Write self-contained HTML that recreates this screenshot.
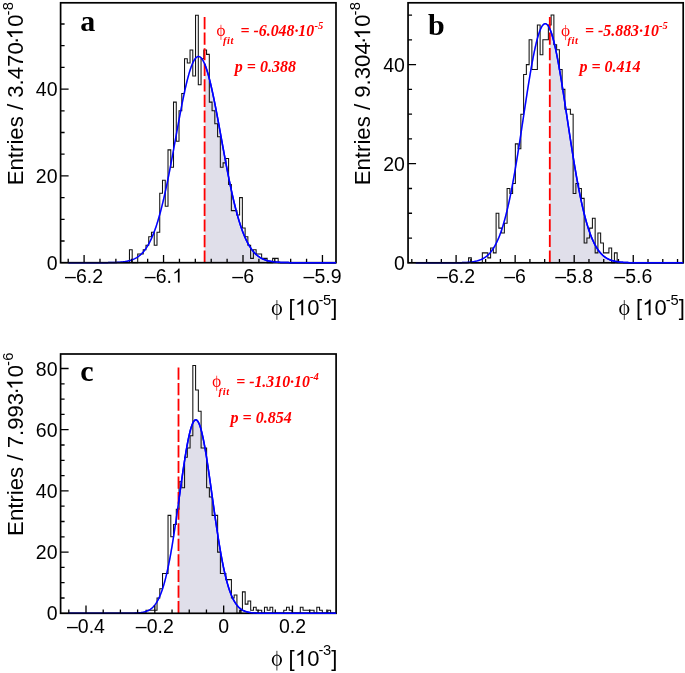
<!DOCTYPE html><html><head><meta charset="utf-8"><style>html,body{margin:0;padding:0;background:#fff;}svg{display:block;will-change:transform}</style></head><body>
<svg width="685" height="673" viewBox="0 0 685 673">
<rect x="0" y="0" width="685" height="673" fill="#fff"/>
<polygon fill="#e0dfea" points="204.6,262.7 204.6,63.85 205,64.82 205.5,66.11 206,67.49 206.5,68.95 207,70.5 207.5,72.13 208,73.83 208.5,75.61 209,77.46 209.5,79.38 210,81.37 210.5,83.43 211,85.55 211.5,87.72 212,89.96 212.5,92.25 213,94.59 213.5,96.98 214,99.41 214.5,101.88 215,104.4 215.5,106.95 216,109.53 216.5,112.15 217,114.79 217.5,117.45 218,120.14 218.5,122.84 219,125.56 219.5,128.29 220,131.03 220.5,133.78 221,136.53 221.5,139.28 222,142.04 222.5,144.78 223,147.52 223.5,150.25 224,152.97 224.5,155.68 225,158.37 225.5,161.04 226,163.69 226.5,166.31 227,168.92 227.5,171.49 228,174.04 228.5,176.56 229,179.05 229.5,181.51 230,183.93 230.5,186.32 231,188.67 231.5,190.98 232,193.26 232.5,195.49 233,197.69 233.5,199.84 234,201.95 234.5,204.02 235,206.04 235.5,208.03 236,209.97 236.5,211.86 237,213.71 237.5,215.52 238,217.28 238.5,218.99 239,220.67 239.5,222.29 240,223.88 240.5,225.42 241,226.91 241.5,228.36 242,229.77 242.5,231.14 243,232.46 243.5,233.75 244,234.99 244.5,236.19 245,237.35 245.5,238.48 246,239.56 246.5,240.61 247,241.62 247.5,242.59 248,243.53 248.5,244.43 249,245.3 249.5,246.13 250,246.93 250.5,247.71 251,248.45 251.5,249.16 252,249.84 252.5,250.49 253,251.12 253.5,251.71 254,252.29 254.5,252.83 255,253.36 255.5,253.86 256,254.33 256.5,254.79 257,255.22 257.5,255.64 258,256.03 258.5,256.41 259,256.76 259.5,257.1 260,257.43 260.5,257.73 261,258.02 261.5,258.3 262,258.56 262.5,258.81 263,259.04 263.5,259.27 264,259.48 264.5,259.67 265,259.86 265.5,260.04 266,260.21 266.5,260.37 267,260.52 267.5,260.66 268,260.79 268.5,260.91 269,261.03 269.5,261.14 270,261.25 270.5,261.34 271,261.44 271.5,261.52 272,261.6 272.5,261.68 273,261.75 273.5,261.82 274,261.88 274.5,261.94 275,261.99 275.5,262.04 276,262.09 276.5,262.13 277,262.17 277.5,262.21 278,262.25 278.5,262.28 279,262.31 279.5,262.34 280,262.37 280.5,262.39 281,262.42 281.5,262.44 282,262.46 282.5,262.48 283,262.5 283.5,262.51 284,262.53 284.5,262.54 285,262.55 285.5,262.57 286,262.58 286.5,262.59 287,262.6 287.5,262.6 288,262.61 288.5,262.62 289,262.63 289.5,262.63 290,262.64 290.5,262.64 291,262.65 291.5,262.65 292,262.66 292.5,262.66 293,262.66 293.5,262.67 294,262.67 294.5,262.67 295,262.68 295.5,262.68 296,262.68 296.5,262.68 297,262.68 297.5,262.68 298,262.69 298.5,262.69 299,262.69 299.5,262.69 300,262.69 300.5,262.69 301,262.69 301.5,262.69 302,262.69 302.5,262.69 303,262.69 303.5,262.7 304,262.7 304.5,262.7 305,262.7 305.5,262.7 306,262.7 306.5,262.7 307,262.7 307.5,262.7 308,262.7 308.5,262.7 309,262.7 309.5,262.7 310,262.7 310.5,262.7 311,262.7 311.5,262.7 312,262.7 312.5,262.7 313,262.7 313.5,262.7 314,262.7 314.5,262.7 315,262.7 315.5,262.7 316,262.7 316.5,262.7 317,262.7 317.5,262.7 318,262.7 318.5,262.7 319,262.7 319.5,262.7 320,262.7 320.5,262.7 321,262.7 321.5,262.7 322,262.7 322.5,262.7 323,262.7 323.5,262.7 324,262.7 324.5,262.7 325,262.7 325.5,262.7 326,262.7 326.5,262.7 327,262.7 327.5,262.7 328,262.7 328.5,262.7 329,262.7 329.5,262.7 330,262.7 330.5,262.7 331,262.7 331.5,262.7 332,262.7 332.5,262.7 333,262.7 333.5,262.7 334,262.7 334.5,262.7 335,262.7 335.5,262.7 336,262.7 336,262.7"/>
<path d="M60.6,262.7L129.45,262.7L129.45,249.68L132.2,249.68L132.2,262.7L137.71,262.7L137.71,254.02L143.22,254.02L143.22,249.68L145.97,249.68L145.97,245.34L148.73,245.34L148.73,236.66L151.48,236.66L151.48,232.32L154.24,232.32L154.24,245.34L156.99,245.34L156.99,232.32L159.74,232.32L159.74,193.26L162.5,193.26L162.5,180.24L165.25,180.24L165.25,206.28L168.01,206.28L168.01,149.86L170.76,149.86L170.76,167.22L173.51,167.22L173.51,102.12L176.27,102.12L176.27,141.18L179.02,141.18L179.02,110.8L181.78,110.8L181.78,93.44L184.53,93.44L184.53,58.72L187.28,58.72L187.28,63.06L190.04,63.06L190.04,50.04L192.79,50.04L192.79,76.08L195.55,76.08L195.55,15.32L198.3,15.32L198.3,84.76L201.05,84.76L201.05,58.72L203.81,58.72L203.81,50.04L206.56,50.04L206.56,54.38L209.32,54.38L209.32,102.12L212.07,102.12L212.07,110.8L214.82,110.8L214.82,123.82L217.58,123.82L217.58,136.84L220.33,136.84L220.33,167.22L223.09,167.22L223.09,162.88L225.84,162.88L225.84,158.54L228.59,158.54L228.59,184.58L231.35,184.58L231.35,210.62L236.86,210.62L236.86,214.96L239.61,214.96L239.61,197.6L242.36,197.6L242.36,227.98L245.12,227.98L245.12,236.66L247.87,236.66L247.87,245.34L250.63,245.34L250.63,258.36L253.38,258.36L253.38,249.68L256.13,249.68L256.13,254.02L261.64,254.02L261.64,258.36L267.15,258.36L267.15,262.7L272.66,262.7L272.66,258.36L278.17,258.36L278.17,262.7L336,262.7" fill="none" stroke="#111" stroke-width="1.05"/>
<line x1="204.6" y1="17" x2="204.6" y2="262.7" stroke="#ff0000" stroke-width="1.8" stroke-dasharray="12.2 3.37"/>
<polyline fill="none" stroke="#0000ff" stroke-width="1.5" stroke-linejoin="round" points="68.3,262.7 68.8,262.7 69.3,262.7 69.8,262.7 70.3,262.7 70.8,262.7 71.3,262.7 71.8,262.7 72.3,262.7 72.8,262.7 73.3,262.7 73.8,262.7 74.3,262.7 74.8,262.7 75.3,262.7 75.8,262.7 76.3,262.7 76.8,262.7 77.3,262.7 77.8,262.7 78.3,262.7 78.8,262.7 79.3,262.7 79.8,262.7 80.3,262.7 80.8,262.7 81.3,262.7 81.8,262.7 82.3,262.7 82.8,262.7 83.3,262.7 83.8,262.7 84.3,262.7 84.8,262.7 85.3,262.7 85.8,262.7 86.3,262.7 86.8,262.7 87.3,262.7 87.8,262.7 88.3,262.7 88.8,262.7 89.3,262.7 89.8,262.7 90.3,262.7 90.8,262.7 91.3,262.7 91.8,262.7 92.3,262.7 92.8,262.7 93.3,262.7 93.8,262.69 94.3,262.69 94.8,262.69 95.3,262.69 95.8,262.69 96.3,262.69 96.8,262.69 97.3,262.69 97.8,262.69 98.3,262.69 98.8,262.69 99.3,262.68 99.8,262.68 100.3,262.68 100.8,262.68 101.3,262.68 101.8,262.68 102.3,262.67 102.8,262.67 103.3,262.67 103.8,262.67 104.3,262.66 104.8,262.66 105.3,262.65 105.8,262.65 106.3,262.65 106.8,262.64 107.3,262.63 107.8,262.63 108.3,262.62 108.8,262.61 109.3,262.61 109.8,262.6 110.3,262.59 110.8,262.58 111.3,262.57 111.8,262.56 112.3,262.55 112.8,262.53 113.3,262.52 113.8,262.5 114.3,262.48 114.8,262.47 115.3,262.45 115.8,262.43 116.3,262.4 116.8,262.38 117.3,262.35 117.8,262.32 118.3,262.29 118.8,262.26 119.3,262.22 119.8,262.19 120.3,262.15 120.8,262.1 121.3,262.06 121.8,262.01 122.3,261.95 122.8,261.9 123.3,261.84 123.8,261.77 124.3,261.7 124.8,261.63 125.3,261.55 125.8,261.46 126.3,261.37 126.8,261.28 127.3,261.18 127.8,261.07 128.3,260.95 128.8,260.83 129.3,260.7 129.8,260.56 130.3,260.42 130.8,260.26 131.3,260.1 131.8,259.92 132.3,259.74 132.8,259.54 133.3,259.33 133.8,259.12 134.3,258.88 134.8,258.64 135.3,258.38 135.8,258.11 136.3,257.83 136.8,257.53 137.3,257.21 137.8,256.87 138.3,256.52 138.8,256.15 139.3,255.77 139.8,255.36 140.3,254.93 140.8,254.48 141.3,254.01 141.8,253.52 142.3,253 142.8,252.46 143.3,251.9 143.8,251.31 144.3,250.69 144.8,250.05 145.3,249.38 145.8,248.68 146.3,247.95 146.8,247.18 147.3,246.39 147.8,245.57 148.3,244.71 148.8,243.82 149.3,242.89 149.8,241.93 150.3,240.93 150.8,239.9 151.3,238.83 151.8,237.72 152.3,236.57 152.8,235.38 153.3,234.15 153.8,232.88 154.3,231.57 154.8,230.22 155.3,228.82 155.8,227.38 156.3,225.9 156.8,224.37 157.3,222.8 157.8,221.19 158.3,219.53 158.8,217.83 159.3,216.08 159.8,214.29 160.3,212.46 160.8,210.58 161.3,208.65 161.8,206.68 162.3,204.67 162.8,202.62 163.3,200.52 163.8,198.38 164.3,196.2 164.8,193.98 165.3,191.71 165.8,189.41 166.3,187.07 166.8,184.7 167.3,182.29 167.8,179.84 168.3,177.36 168.8,174.85 169.3,172.31 169.8,169.74 170.3,167.15 170.8,164.53 171.3,161.89 171.8,159.22 172.3,156.54 172.8,153.84 173.3,151.12 173.8,148.4 174.3,145.66 174.8,142.91 175.3,140.17 175.8,137.41 176.3,134.66 176.8,131.91 177.3,129.17 177.8,126.43 178.3,123.71 178.8,121 179.3,118.31 179.8,115.64 180.3,112.99 180.8,110.37 181.3,107.77 181.8,105.21 182.3,102.68 182.8,100.2 183.3,97.75 183.8,95.35 184.3,92.99 184.8,90.69 185.3,88.43 185.8,86.24 186.3,84.1 186.8,82.02 187.3,80.01 187.8,78.07 188.3,76.19 188.8,74.39 189.3,72.66 189.8,71.01 190.3,69.44 190.8,67.95 191.3,66.54 191.8,65.22 192.3,63.99 192.8,62.84 193.3,61.79 193.8,60.83 194.3,59.96 194.8,59.19 195.3,58.51 195.8,57.93 196.3,57.45 196.8,57.06 197.3,56.78 197.8,56.59 198.3,56.51 198.8,56.52 199.3,56.63 199.8,56.85 200.3,57.16 200.8,57.57 201.3,58.08 201.8,58.69 202.3,59.39 202.8,60.19 203.3,61.09 203.8,62.08 204.3,63.16 204.8,64.33 205.3,65.58 205.8,66.93 206.3,68.36 206.8,69.87 207.3,71.47 207.8,73.14 208.3,74.89 208.8,76.71 209.3,78.61 209.8,80.57 210.3,82.6 210.8,84.69 211.3,86.85 211.8,89.06 212.3,91.33 212.8,93.65 213.3,96.01 213.8,98.43 214.3,100.89 214.8,103.39 215.3,105.92 215.8,108.5 216.3,111.1 216.8,113.73 217.3,116.38 217.8,119.06 218.3,121.76 218.8,124.47 219.3,127.2 219.8,129.94 220.3,132.68 220.8,135.43 221.3,138.18 221.8,140.94 222.3,143.68 222.8,146.43 223.3,149.16 223.8,151.89 224.3,154.6 224.8,157.29 225.3,159.97 225.8,162.63 226.3,165.27 226.8,167.88 227.3,170.47 227.8,173.03 228.3,175.56 228.8,178.06 229.3,180.53 229.8,182.97 230.3,185.37 230.8,187.73 231.3,190.06 231.8,192.35 232.3,194.6 232.8,196.81 233.3,198.98 233.8,201.11 234.3,203.2 234.8,205.24 235.3,207.24 235.8,209.2 236.3,211.11 236.8,212.98 237.3,214.8 237.8,216.58 238.3,218.31 238.8,220 239.3,221.65 239.8,223.25 240.3,224.81 240.8,226.32 241.3,227.79 241.8,229.21 242.3,230.6 242.8,231.94 243.3,233.24 243.8,234.5 244.3,235.72 244.8,236.89 245.3,238.03 245.8,239.13 246.3,240.19 246.8,241.22 247.3,242.2 247.8,243.16 248.3,244.07 248.8,244.95 249.3,245.8 249.8,246.62 250.3,247.4 250.8,248.15 251.3,248.88 251.8,249.57 252.3,250.23 252.8,250.87 253.3,251.48 253.8,252.06 254.3,252.62 254.8,253.15 255.3,253.66 255.8,254.15 256.3,254.61 256.8,255.05 257.3,255.47 257.8,255.88 258.3,256.26 258.8,256.62 259.3,256.97 259.8,257.3 260.3,257.61 260.8,257.91 261.3,258.19 261.8,258.46 262.3,258.71 262.8,258.95 263.3,259.18 263.8,259.39 264.3,259.6 264.8,259.79 265.3,259.97 265.8,260.14 266.3,260.3 266.8,260.46 267.3,260.6 267.8,260.74 268.3,260.87 268.8,260.99 269.3,261.1 269.8,261.21 270.3,261.31 270.8,261.4 271.3,261.49 271.8,261.57 272.3,261.65 272.8,261.72 273.3,261.79 273.8,261.85 274.3,261.91 274.8,261.97 275.3,262.02 275.8,262.07 276.3,262.12 276.8,262.16 277.3,262.2 277.8,262.23 278.3,262.27 278.8,262.3 279.3,262.33 279.8,262.36 280.3,262.39 280.8,262.41 281.3,262.43 281.8,262.45 282.3,262.47 282.8,262.49 283.3,262.51 283.8,262.52 284.3,262.54 284.8,262.55 285.3,262.56 285.8,262.57 286.3,262.58 286.8,262.59 287.3,262.6 287.8,262.61 288.3,262.62 288.8,262.62 289.3,262.63 289.8,262.64 290.3,262.64 290.8,262.65 291.3,262.65 291.8,262.66 292.3,262.66 292.8,262.66 293.3,262.67 293.8,262.67 294.3,262.67 294.8,262.67 295.3,262.68 295.8,262.68 296.3,262.68 296.8,262.68 297.3,262.68 297.8,262.69 298.3,262.69 298.8,262.69 299.3,262.69 299.8,262.69 300.3,262.69 300.8,262.69 301.3,262.69 301.8,262.69 302.3,262.69 302.8,262.69 303.3,262.7 303.8,262.7 304.3,262.7 304.8,262.7 305.3,262.7 305.8,262.7 306.3,262.7 306.8,262.7 307.3,262.7 307.8,262.7 308.3,262.7 308.8,262.7 309.3,262.7 309.8,262.7 310.3,262.7 310.8,262.7 311.3,262.7 311.8,262.7 312.3,262.7 312.8,262.7 313.3,262.7 313.8,262.7 314.3,262.7 314.8,262.7 315.3,262.7 315.8,262.7 316.3,262.7 316.8,262.7 317.3,262.7 317.8,262.7 318.3,262.7 318.8,262.7 319.3,262.7 319.8,262.7 320.3,262.7 320.8,262.7 321.3,262.7 321.8,262.7 322.3,262.7 322.8,262.7 323.3,262.7 323.8,262.7 324.3,262.7 324.8,262.7 325.3,262.7 325.8,262.7 326.3,262.7 326.8,262.7 327.3,262.7 327.8,262.7 328.3,262.7 328.8,262.7 329.3,262.7 329.8,262.7 330.3,262.7 330.8,262.7 331.3,262.7 331.8,262.7 332.3,262.7 332.8,262.7 333.3,262.7 333.8,262.7 334.3,262.7 334.8,262.7 335.3,262.7 335.8,262.7 336,262.7"/>
<rect x="60.6" y="2.8" width="275.4" height="259.9" fill="none" stroke="#000" stroke-width="1.7"/>
<path d="M68.21,262.7V258.8M84.1,262.7V254.9M99.99,262.7V258.8M115.88,262.7V258.8M131.77,262.7V258.8M147.66,262.7V258.8M163.55,262.7V254.9M179.44,262.7V258.8M195.33,262.7V258.8M211.22,262.7V258.8M227.11,262.7V258.8M243,262.7V254.9M258.89,262.7V258.8M274.78,262.7V258.8M290.67,262.7V258.8M306.56,262.7V258.8M322.45,262.7V254.9M60.6,241H64.6M60.6,219.3H64.6M60.6,197.6H64.6M60.6,175.9H68.6M60.6,154.2H64.6M60.6,132.5H64.6M60.6,110.8H64.6M60.6,89.1H68.6M60.6,67.4H64.6M60.6,45.7H64.6M60.6,24H64.6" stroke="#000" stroke-width="1.3" fill="none"/>
<polyline fill="none" stroke="#0000ff" stroke-opacity="0.2" stroke-width="1.5" stroke-linejoin="round" points="68.3,262.7 68.8,262.7 69.3,262.7 69.8,262.7 70.3,262.7 70.8,262.7 71.3,262.7 71.8,262.7 72.3,262.7 72.8,262.7 73.3,262.7 73.8,262.7 74.3,262.7 74.8,262.7 75.3,262.7 75.8,262.7 76.3,262.7 76.8,262.7 77.3,262.7 77.8,262.7 78.3,262.7 78.8,262.7 79.3,262.7 79.8,262.7 80.3,262.7 80.8,262.7 81.3,262.7 81.8,262.7 82.3,262.7 82.8,262.7 83.3,262.7 83.8,262.7 84.3,262.7 84.8,262.7 85.3,262.7 85.8,262.7 86.3,262.7 86.8,262.7 87.3,262.7 87.8,262.7 88.3,262.7 88.8,262.7 89.3,262.7 89.8,262.7 90.3,262.7 90.8,262.7 91.3,262.7 91.8,262.7 92.3,262.7 92.8,262.7 93.3,262.7 93.8,262.69 94.3,262.69 94.8,262.69 95.3,262.69 95.8,262.69 96.3,262.69 96.8,262.69 97.3,262.69 97.8,262.69 98.3,262.69 98.8,262.69 99.3,262.68 99.8,262.68 100.3,262.68 100.8,262.68 101.3,262.68 101.8,262.68 102.3,262.67 102.8,262.67 103.3,262.67 103.8,262.67 104.3,262.66 104.8,262.66 105.3,262.65 105.8,262.65 106.3,262.65 106.8,262.64 107.3,262.63 107.8,262.63 108.3,262.62 108.8,262.61 109.3,262.61 109.8,262.6 110.3,262.59 110.8,262.58 111.3,262.57 111.8,262.56 112.3,262.55 112.8,262.53 113.3,262.52 113.8,262.5 114.3,262.48 114.8,262.47 115.3,262.45 115.8,262.43 116.3,262.4 116.8,262.38 117.3,262.35 117.8,262.32 118.3,262.29 118.8,262.26 119.3,262.22 119.8,262.19 120.3,262.15 120.8,262.1 121.3,262.06 121.8,262.01 122.3,261.95 122.8,261.9 123.3,261.84 123.8,261.77 124.3,261.7 124.8,261.63 125.3,261.55 125.8,261.46 126.3,261.37 126.8,261.28 127.3,261.18 127.8,261.07 128.3,260.95 128.8,260.83 129.3,260.7 129.8,260.56 130.3,260.42 130.8,260.26 131.3,260.1 131.8,259.92 132.3,259.74 132.8,259.54 133.3,259.33 133.8,259.12 134.3,258.88 134.8,258.64 135.3,258.38 135.8,258.11 136.3,257.83 136.8,257.53 137.3,257.21 137.8,256.87 138.3,256.52 138.8,256.15 139.3,255.77 139.8,255.36 140.3,254.93 140.8,254.48 141.3,254.01 141.8,253.52 142.3,253 142.8,252.46 143.3,251.9 143.8,251.31 144.3,250.69 144.8,250.05 145.3,249.38 145.8,248.68 146.3,247.95 146.8,247.18 147.3,246.39 147.8,245.57 148.3,244.71 148.8,243.82 149.3,242.89 149.8,241.93 150.3,240.93 150.8,239.9 151.3,238.83 151.8,237.72 152.3,236.57 152.8,235.38 153.3,234.15 153.8,232.88 154.3,231.57 154.8,230.22 155.3,228.82 155.8,227.38 156.3,225.9 156.8,224.37 157.3,222.8 157.8,221.19 158.3,219.53 158.8,217.83 159.3,216.08 159.8,214.29 160.3,212.46 160.8,210.58 161.3,208.65 161.8,206.68 162.3,204.67 162.8,202.62 163.3,200.52 163.8,198.38 164.3,196.2 164.8,193.98 165.3,191.71 165.8,189.41 166.3,187.07 166.8,184.7 167.3,182.29 167.8,179.84 168.3,177.36 168.8,174.85 169.3,172.31 169.8,169.74 170.3,167.15 170.8,164.53 171.3,161.89 171.8,159.22 172.3,156.54 172.8,153.84 173.3,151.12 173.8,148.4 174.3,145.66 174.8,142.91 175.3,140.17 175.8,137.41 176.3,134.66 176.8,131.91 177.3,129.17 177.8,126.43 178.3,123.71 178.8,121 179.3,118.31 179.8,115.64 180.3,112.99 180.8,110.37 181.3,107.77 181.8,105.21 182.3,102.68 182.8,100.2 183.3,97.75 183.8,95.35 184.3,92.99 184.8,90.69 185.3,88.43 185.8,86.24 186.3,84.1 186.8,82.02 187.3,80.01 187.8,78.07 188.3,76.19 188.8,74.39 189.3,72.66 189.8,71.01 190.3,69.44 190.8,67.95 191.3,66.54 191.8,65.22 192.3,63.99 192.8,62.84 193.3,61.79 193.8,60.83 194.3,59.96 194.8,59.19 195.3,58.51 195.8,57.93 196.3,57.45 196.8,57.06 197.3,56.78 197.8,56.59 198.3,56.51 198.8,56.52 199.3,56.63 199.8,56.85 200.3,57.16 200.8,57.57 201.3,58.08 201.8,58.69 202.3,59.39 202.8,60.19 203.3,61.09 203.8,62.08 204.3,63.16 204.6,63.85"/>
<polyline fill="none" stroke="#0000ff" stroke-width="1.5" stroke-linejoin="round" points="204.6,63.85 205,64.82 205.5,66.11 206,67.49 206.5,68.95 207,70.5 207.5,72.13 208,73.83 208.5,75.61 209,77.46 209.5,79.38 210,81.37 210.5,83.43 211,85.55 211.5,87.72 212,89.96 212.5,92.25 213,94.59 213.5,96.98 214,99.41 214.5,101.88 215,104.4 215.5,106.95 216,109.53 216.5,112.15 217,114.79 217.5,117.45 218,120.14 218.5,122.84 219,125.56 219.5,128.29 220,131.03 220.5,133.78 221,136.53 221.5,139.28 222,142.04 222.5,144.78 223,147.52 223.5,150.25 224,152.97 224.5,155.68 225,158.37 225.5,161.04 226,163.69 226.5,166.31 227,168.92 227.5,171.49 228,174.04 228.5,176.56 229,179.05 229.5,181.51 230,183.93 230.5,186.32 231,188.67 231.5,190.98 232,193.26 232.5,195.49 233,197.69 233.5,199.84 234,201.95 234.5,204.02 235,206.04 235.5,208.03 236,209.97 236.5,211.86 237,213.71 237.5,215.52 238,217.28 238.5,218.99 239,220.67 239.5,222.29 240,223.88 240.5,225.42 241,226.91 241.5,228.36 242,229.77 242.5,231.14 243,232.46 243.5,233.75 244,234.99 244.5,236.19 245,237.35 245.5,238.48 246,239.56 246.5,240.61 247,241.62 247.5,242.59 248,243.53 248.5,244.43 249,245.3 249.5,246.13 250,246.93 250.5,247.71 251,248.45 251.5,249.16 252,249.84 252.5,250.49 253,251.12 253.5,251.71 254,252.29 254.5,252.83 255,253.36 255.5,253.86 256,254.33 256.5,254.79 257,255.22 257.5,255.64 258,256.03 258.5,256.41 259,256.76 259.5,257.1 260,257.43 260.5,257.73 261,258.02 261.5,258.3 262,258.56 262.5,258.81 263,259.04 263.5,259.27 264,259.48 264.5,259.67 265,259.86 265.5,260.04 266,260.21 266.5,260.37 267,260.52 267.5,260.66 268,260.79 268.5,260.91 269,261.03 269.5,261.14 270,261.25 270.5,261.34 271,261.44 271.5,261.52 272,261.6 272.5,261.68 273,261.75 273.5,261.82 274,261.88 274.5,261.94 275,261.99 275.5,262.04 276,262.09 276.5,262.13 277,262.17 277.5,262.21 278,262.25 278.5,262.28 279,262.31 279.5,262.34 280,262.37 280.5,262.39 281,262.42 281.5,262.44 282,262.46 282.5,262.48 283,262.5 283.5,262.51 284,262.53 284.5,262.54 285,262.55 285.5,262.57 286,262.58 286.5,262.59 287,262.6 287.5,262.6 288,262.61 288.5,262.62 289,262.63 289.5,262.63 290,262.64 290.5,262.64 291,262.65 291.5,262.65 292,262.66 292.5,262.66 293,262.66 293.5,262.67 294,262.67 294.5,262.67 295,262.68 295.5,262.68 296,262.68 296.5,262.68 297,262.68 297.5,262.68 298,262.69 298.5,262.69 299,262.69 299.5,262.69 300,262.69 300.5,262.69 301,262.69 301.5,262.69 302,262.69 302.5,262.69 303,262.69 303.5,262.7 304,262.7 304.5,262.7 305,262.7 305.5,262.7 306,262.7 306.5,262.7 307,262.7 307.5,262.7 308,262.7 308.5,262.7 309,262.7 309.5,262.7 310,262.7 310.5,262.7 311,262.7 311.5,262.7 312,262.7 312.5,262.7 313,262.7 313.5,262.7 314,262.7 314.5,262.7 315,262.7 315.5,262.7 316,262.7 316.5,262.7 317,262.7 317.5,262.7 318,262.7 318.5,262.7 319,262.7 319.5,262.7 320,262.7 320.5,262.7 321,262.7 321.5,262.7 322,262.7 322.5,262.7 323,262.7 323.5,262.7 324,262.7 324.5,262.7 325,262.7 325.5,262.7 326,262.7 326.5,262.7 327,262.7 327.5,262.7 328,262.7 328.5,262.7 329,262.7 329.5,262.7 330,262.7 330.5,262.7 331,262.7 331.5,262.7 332,262.7 332.5,262.7 333,262.7 333.5,262.7 334,262.7 334.5,262.7 335,262.7 335.5,262.7 336,262.7 336,262.7"/>
<text x="57.5" y="269.75" font-family="Liberation Sans, sans-serif" font-size="19.5" text-anchor="end">0</text>
<text x="57.5" y="182.95" font-family="Liberation Sans, sans-serif" font-size="19.5" text-anchor="end">20</text>
<text x="57.5" y="96.15" font-family="Liberation Sans, sans-serif" font-size="19.5" text-anchor="end">40</text>
<text x="84.1" y="282.6" font-family="Liberation Sans, sans-serif" font-size="19.5" text-anchor="middle">–6.2</text>
<text x="144.82" y="282.6" font-family="Liberation Sans, sans-serif" font-size="19.5">–6.</text>
<path d="M0.3726,0L0.2847,0L0.2847,0.5601Q0.2529,0.5298 0.2012,0.4995Q0.1494,0.4692 0.1084,0.4541L0.1084,0.5391Q0.1821,0.5737 0.2373,0.623Q0.2925,0.6724 0.3154,0.7188L0.3726,0.7188Z" transform="translate(172.33,282.6) scale(19.5,-19.5)" fill="#000"/>
<text x="243.2" y="282.6" font-family="Liberation Sans, sans-serif" font-size="19.5" text-anchor="middle">–6</text>
<text x="322.6" y="282.6" font-family="Liberation Sans, sans-serif" font-size="19.5" text-anchor="middle">–5.9</text>
<polygon fill="#e0dfea" points="549.8,262.8 549.8,28.88 550,29.33 550.5,30.56 551,31.89 551.5,33.34 552,34.9 552.5,36.56 553,38.33 553.5,40.21 554,42.18 554.5,44.25 555,46.41 555.5,48.66 556,51 556.5,53.43 557,55.93 557.5,58.51 558,61.17 558.5,63.89 559,66.68 559.5,69.53 560,72.44 560.5,75.4 561,78.41 561.5,81.47 562,84.57 562.5,87.71 563,90.88 563.5,94.09 564,97.32 564.5,100.57 565,103.84 565.5,107.13 566,110.43 566.5,113.74 567,117.05 567.5,120.36 568,123.67 568.5,126.98 569,130.27 569.5,133.55 570,136.82 570.5,140.07 571,143.29 571.5,146.49 572,149.67 572.5,152.82 573,155.93 573.5,159.01 574,162.06 574.5,165.06 575,168.03 575.5,170.95 576,173.83 576.5,176.67 577,179.45 577.5,182.19 578,184.88 578.5,187.52 579,190.11 579.5,192.65 580,195.13 580.5,197.56 581,199.93 581.5,202.25 582,204.52 582.5,206.73 583,208.88 583.5,210.98 584,213.02 584.5,215.01 585,216.94 585.5,218.81 586,220.64 586.5,222.4 587,224.12 587.5,225.78 588,227.38 588.5,228.94 589,230.44 589.5,231.89 590,233.3 590.5,234.65 591,235.96 591.5,237.22 592,238.43 592.5,239.6 593,240.72 593.5,241.8 594,242.84 594.5,243.83 595,244.79 595.5,245.7 596,246.58 596.5,247.42 597,248.23 597.5,249 598,249.73 598.5,250.44 599,251.11 599.5,251.75 600,252.36 600.5,252.94 601,253.5 601.5,254.03 602,254.53 602.5,255.01 603,255.46 603.5,255.89 604,256.3 604.5,256.69 605,257.06 605.5,257.41 606,257.74 606.5,258.05 607,258.34 607.5,258.62 608,258.89 608.5,259.14 609,259.37 609.5,259.59 610,259.8 610.5,260 611,260.18 611.5,260.36 612,260.52 612.5,260.68 613,260.82 613.5,260.96 614,261.08 614.5,261.2 615,261.31 615.5,261.42 616,261.52 616.5,261.61 617,261.69 617.5,261.77 618,261.85 618.5,261.92 619,261.98 619.5,262.04 620,262.1 620.5,262.15 621,262.2 621.5,262.25 622,262.29 622.5,262.33 623,262.37 623.5,262.4 624,262.43 624.5,262.46 625,262.49 625.5,262.51 626,262.54 626.5,262.56 627,262.58 627.5,262.6 628,262.61 628.5,262.63 629,262.64 629.5,262.66 630,262.67 630.5,262.68 631,262.69 631.5,262.7 632,262.71 632.5,262.72 633,262.72 633.5,262.73 634,262.74 634.5,262.74 635,262.75 635.5,262.75 636,262.76 636.5,262.76 637,262.76 637.5,262.77 638,262.77 638.5,262.77 639,262.78 639.5,262.78 640,262.78 640.5,262.78 641,262.78 641.5,262.78 642,262.79 642.5,262.79 643,262.79 643.5,262.79 644,262.79 644.5,262.79 645,262.79 645.5,262.79 646,262.79 646.5,262.79 647,262.8 647.5,262.8 648,262.8 648.5,262.8 649,262.8 649.5,262.8 650,262.8 650.5,262.8 651,262.8 651.5,262.8 652,262.8 652.5,262.8 653,262.8 653.5,262.8 654,262.8 654.5,262.8 655,262.8 655.5,262.8 656,262.8 656.5,262.8 657,262.8 657.5,262.8 658,262.8 658.5,262.8 659,262.8 659.5,262.8 660,262.8 660.5,262.8 661,262.8 661.5,262.8 662,262.8 662.5,262.8 663,262.8 663.5,262.8 664,262.8 664.5,262.8 665,262.8 665.5,262.8 666,262.8 666.5,262.8 667,262.8 667.5,262.8 668,262.8 668.5,262.8 669,262.8 669.5,262.8 670,262.8 670.5,262.8 671,262.8 671.5,262.8 672,262.8 672.5,262.8 673,262.8 673.5,262.8 674,262.8 674.5,262.8 675,262.8 675.5,262.8 676,262.8 676.5,262.8 677,262.8 677.5,262.8 678,262.8 678.5,262.8 679,262.8 679.5,262.8 680,262.8 680.5,262.8 681,262.8 681.5,262.8 682,262.8 682.5,262.8 683,262.8 683.2,262.8 683.2,262.8"/>
<path d="M408.05,262.8L468.58,262.8L468.58,257.85L471.33,257.85L471.33,262.8L482.34,262.8L482.34,252.89L487.84,252.89L487.84,257.85L490.6,257.85L490.6,247.94L493.35,247.94L493.35,252.89L496.1,252.89L496.1,213.25L498.85,213.25L498.85,228.12L501.6,228.12L501.6,233.07L504.35,233.07L504.35,223.16L507.1,223.16L507.1,188.48L509.86,188.48L509.86,193.43L512.61,193.43L512.61,183.52L515.36,183.52L515.36,143.88L518.11,143.88L518.11,148.84L520.86,148.84L520.86,114.15L523.61,114.15L523.61,74.51L526.36,74.51L526.36,64.6L529.12,64.6L529.12,39.83L531.87,39.83L531.87,69.56L537.37,69.56L537.37,24.96L540.12,24.96L540.12,54.69L542.87,54.69L542.87,39.83L548.38,39.83L548.38,24.96L551.13,24.96L551.13,15.05L553.88,15.05L553.88,44.78L556.63,44.78L556.63,49.74L559.38,49.74L559.38,69.56L562.13,69.56L562.13,89.38L564.89,89.38L564.89,109.2L570.39,109.2L570.39,114.15L573.14,114.15L573.14,193.43L575.89,193.43L575.89,183.52L578.64,183.52L578.64,188.48L581.39,188.48L581.39,198.38L584.15,198.38L584.15,242.98L586.9,242.98L586.9,238.03L589.65,238.03L589.65,228.12L592.4,228.12L592.4,218.21L595.15,218.21L595.15,252.89L597.9,252.89L597.9,233.07L600.65,233.07L600.65,242.98L603.41,242.98L603.41,252.89L608.91,252.89L608.91,247.94L611.66,247.94L611.66,262.8L614.41,262.8L614.41,252.89L617.16,252.89L617.16,262.8L683.2,262.8" fill="none" stroke="#111" stroke-width="1.05"/>
<line x1="549.8" y1="16.9" x2="549.8" y2="262.8" stroke="#ff0000" stroke-width="1.8" stroke-dasharray="12.2 3.37"/>
<polyline fill="none" stroke="#0000ff" stroke-width="1.5" stroke-linejoin="round" points="415.75,262.8 416.25,262.8 416.75,262.8 417.25,262.8 417.75,262.8 418.25,262.8 418.75,262.8 419.25,262.8 419.75,262.8 420.25,262.8 420.75,262.8 421.25,262.8 421.75,262.8 422.25,262.8 422.75,262.8 423.25,262.8 423.75,262.8 424.25,262.8 424.75,262.8 425.25,262.8 425.75,262.8 426.25,262.8 426.75,262.8 427.25,262.8 427.75,262.8 428.25,262.8 428.75,262.8 429.25,262.8 429.75,262.8 430.25,262.8 430.75,262.8 431.25,262.8 431.75,262.8 432.25,262.8 432.75,262.8 433.25,262.8 433.75,262.8 434.25,262.8 434.75,262.8 435.25,262.8 435.75,262.8 436.25,262.8 436.75,262.8 437.25,262.8 437.75,262.8 438.25,262.8 438.75,262.8 439.25,262.8 439.75,262.8 440.25,262.8 440.75,262.8 441.25,262.8 441.75,262.8 442.25,262.8 442.75,262.8 443.25,262.8 443.75,262.79 444.25,262.79 444.75,262.79 445.25,262.79 445.75,262.79 446.25,262.79 446.75,262.79 447.25,262.79 447.75,262.79 448.25,262.79 448.75,262.79 449.25,262.78 449.75,262.78 450.25,262.78 450.75,262.78 451.25,262.78 451.75,262.77 452.25,262.77 452.75,262.77 453.25,262.76 453.75,262.76 454.25,262.76 454.75,262.75 455.25,262.75 455.75,262.74 456.25,262.74 456.75,262.73 457.25,262.73 457.75,262.72 458.25,262.71 458.75,262.7 459.25,262.69 459.75,262.68 460.25,262.67 460.75,262.66 461.25,262.65 461.75,262.63 462.25,262.62 462.75,262.6 463.25,262.58 463.75,262.57 464.25,262.54 464.75,262.52 465.25,262.5 465.75,262.47 466.25,262.44 466.75,262.41 467.25,262.38 467.75,262.34 468.25,262.31 468.75,262.26 469.25,262.22 469.75,262.17 470.25,262.12 470.75,262.07 471.25,262.01 471.75,261.94 472.25,261.88 472.75,261.8 473.25,261.73 473.75,261.64 474.25,261.55 474.75,261.46 475.25,261.35 475.75,261.25 476.25,261.13 476.75,261.01 477.25,260.87 477.75,260.73 478.25,260.58 478.75,260.42 479.25,260.25 479.75,260.07 480.25,259.88 480.75,259.67 481.25,259.46 481.75,259.23 482.25,258.98 482.75,258.73 483.25,258.45 483.75,258.16 484.25,257.86 484.75,257.53 485.25,257.19 485.75,256.83 486.25,256.45 486.75,256.05 487.25,255.63 487.75,255.18 488.25,254.71 488.75,254.22 489.25,253.7 489.75,253.16 490.25,252.59 490.75,251.98 491.25,251.36 491.75,250.7 492.25,250 492.75,249.28 493.25,248.52 493.75,247.73 494.25,246.9 494.75,246.04 495.25,245.14 495.75,244.2 496.25,243.22 496.75,242.2 497.25,241.13 497.75,240.03 498.25,238.88 498.75,237.68 499.25,236.44 499.75,235.15 500.25,233.82 500.75,232.43 501.25,231 501.75,229.52 502.25,227.98 502.75,226.39 503.25,224.75 503.75,223.06 504.25,221.31 504.75,219.51 505.25,217.66 505.75,215.75 506.25,213.78 506.75,211.76 507.25,209.68 507.75,207.55 508.25,205.36 508.75,203.12 509.25,200.82 509.75,198.47 510.25,196.06 510.75,193.6 511.25,191.08 511.75,188.51 512.25,185.89 512.75,183.22 513.25,180.5 513.75,177.73 514.25,174.91 514.75,172.05 515.25,169.14 515.75,166.19 516.25,163.2 516.75,160.17 517.25,157.11 517.75,154 518.25,150.87 518.75,147.7 519.25,144.51 519.75,141.29 520.25,138.05 520.75,134.79 521.25,131.52 521.75,128.23 522.25,124.93 522.75,121.62 523.25,118.31 523.75,115 524.25,111.69 524.75,108.38 525.25,105.09 525.75,101.81 526.25,98.55 526.75,95.31 527.25,92.1 527.75,88.91 528.25,85.76 528.75,82.64 529.25,79.57 529.75,76.54 530.25,73.56 530.75,70.63 531.25,67.75 531.75,64.94 532.25,62.19 532.75,59.51 533.25,56.9 533.75,54.37 534.25,51.92 534.75,49.54 535.25,47.26 535.75,45.06 536.25,42.95 536.75,40.95 537.25,39.03 537.75,37.22 538.25,35.52 538.75,33.92 539.25,32.43 539.75,31.05 540.25,29.78 540.75,28.63 541.25,27.6 541.75,26.69 542.25,25.89 542.75,25.22 543.25,24.67 543.75,24.24 544.25,23.93 544.75,23.76 545.25,23.7 545.75,23.77 546.25,23.96 546.75,24.28 547.25,24.73 547.75,25.29 548.25,25.98 548.75,26.79 549.25,27.72 549.75,28.77 550.25,29.93 550.75,31.21 551.25,32.6 551.75,34.11 552.25,35.72 552.75,37.44 553.25,39.26 553.75,41.18 554.25,43.2 554.75,45.32 555.25,47.53 555.75,49.82 556.25,52.21 556.75,54.67 557.25,57.21 557.75,59.83 558.25,62.52 558.75,65.28 559.25,68.1 559.75,70.97 560.25,73.91 560.75,76.9 561.25,79.93 561.75,83.01 562.25,86.14 562.75,89.29 563.25,92.48 563.75,95.7 564.25,98.94 564.75,102.21 565.25,105.49 565.75,108.78 566.25,112.08 566.75,115.39 567.25,118.71 567.75,122.02 568.25,125.32 568.75,128.62 569.25,131.91 569.75,135.19 570.25,138.44 570.75,141.68 571.25,144.9 571.75,148.09 572.25,151.25 572.75,154.38 573.25,157.48 573.75,160.54 574.25,163.56 574.75,166.55 575.25,169.49 575.75,172.4 576.25,175.25 576.75,178.06 577.25,180.83 577.75,183.54 578.25,186.21 578.75,188.82 579.25,191.39 579.75,193.89 580.25,196.35 580.75,198.75 581.25,201.1 581.75,203.39 582.25,205.63 582.75,207.81 583.25,209.94 583.75,212.01 584.25,214.02 584.75,215.98 585.25,217.88 585.75,219.73 586.25,221.53 586.75,223.27 587.25,224.95 587.75,226.59 588.25,228.17 588.75,229.7 589.25,231.17 589.75,232.6 590.25,233.98 590.75,235.31 591.25,236.59 591.75,237.83 592.25,239.02 592.75,240.16 593.25,241.26 593.75,242.32 594.25,243.34 594.75,244.31 595.25,245.25 595.75,246.15 596.25,247.01 596.75,247.83 597.25,248.62 597.75,249.37 598.25,250.09 598.75,250.78 599.25,251.43 599.75,252.06 600.25,252.66 600.75,253.22 601.25,253.77 601.75,254.28 602.25,254.77 602.75,255.24 603.25,255.68 603.75,256.1 604.25,256.5 604.75,256.88 605.25,257.23 605.75,257.57 606.25,257.89 606.75,258.2 607.25,258.49 607.75,258.76 608.25,259.01 608.75,259.26 609.25,259.48 609.75,259.7 610.25,259.9 610.75,260.09 611.25,260.27 611.75,260.44 612.25,260.6 612.75,260.75 613.25,260.89 613.75,261.02 614.25,261.14 614.75,261.26 615.25,261.37 615.75,261.47 616.25,261.56 616.75,261.65 617.25,261.73 617.75,261.81 618.25,261.88 618.75,261.95 619.25,262.01 619.75,262.07 620.25,262.13 620.75,262.18 621.25,262.23 621.75,262.27 622.25,262.31 622.75,262.35 623.25,262.38 623.75,262.42 624.25,262.45 624.75,262.47 625.25,262.5 625.75,262.52 626.25,262.55 626.75,262.57 627.25,262.59 627.75,262.6 628.25,262.62 628.75,262.64 629.25,262.65 629.75,262.66 630.25,262.67 630.75,262.68 631.25,262.69 631.75,262.7 632.25,262.71 632.75,262.72 633.25,262.73 633.75,262.73 634.25,262.74 634.75,262.74 635.25,262.75 635.75,262.75 636.25,262.76 636.75,262.76 637.25,262.77 637.75,262.77 638.25,262.77 638.75,262.77 639.25,262.78 639.75,262.78 640.25,262.78 640.75,262.78 641.25,262.78 641.75,262.79 642.25,262.79 642.75,262.79 643.25,262.79 643.75,262.79 644.25,262.79 644.75,262.79 645.25,262.79 645.75,262.79 646.25,262.79 646.75,262.79 647.25,262.8 647.75,262.8 648.25,262.8 648.75,262.8 649.25,262.8 649.75,262.8 650.25,262.8 650.75,262.8 651.25,262.8 651.75,262.8 652.25,262.8 652.75,262.8 653.25,262.8 653.75,262.8 654.25,262.8 654.75,262.8 655.25,262.8 655.75,262.8 656.25,262.8 656.75,262.8 657.25,262.8 657.75,262.8 658.25,262.8 658.75,262.8 659.25,262.8 659.75,262.8 660.25,262.8 660.75,262.8 661.25,262.8 661.75,262.8 662.25,262.8 662.75,262.8 663.25,262.8 663.75,262.8 664.25,262.8 664.75,262.8 665.25,262.8 665.75,262.8 666.25,262.8 666.75,262.8 667.25,262.8 667.75,262.8 668.25,262.8 668.75,262.8 669.25,262.8 669.75,262.8 670.25,262.8 670.75,262.8 671.25,262.8 671.75,262.8 672.25,262.8 672.75,262.8 673.25,262.8 673.75,262.8 674.25,262.8 674.75,262.8 675.25,262.8 675.75,262.8 676.25,262.8 676.75,262.8 677.25,262.8 677.75,262.8 678.25,262.8 678.75,262.8 679.25,262.8 679.75,262.8 680.25,262.8 680.75,262.8 681.25,262.8 681.75,262.8 682.25,262.8 682.75,262.8 683.2,262.8"/>
<rect x="408.05" y="2.8" width="275.15" height="260" fill="none" stroke="#000" stroke-width="1.7"/>
<path d="M411.81,262.8V258.9M426.58,262.8V258.9M441.34,262.8V258.9M456.1,262.8V255M470.86,262.8V258.9M485.62,262.8V258.9M500.39,262.8V258.9M515.15,262.8V255M529.91,262.8V258.9M544.67,262.8V258.9M559.44,262.8V258.9M574.2,262.8V255M588.96,262.8V258.9M603.73,262.8V258.9M618.49,262.8V258.9M633.25,262.8V255M648.01,262.8V258.9M662.77,262.8V258.9M677.54,262.8V258.9M408.05,238.03H412.05M408.05,213.25H412.05M408.05,188.48H412.05M408.05,163.7H416.05M408.05,138.93H412.05M408.05,114.15H412.05M408.05,89.38H412.05M408.05,64.6H416.05M408.05,39.83H412.05M408.05,15.05H412.05" stroke="#000" stroke-width="1.3" fill="none"/>
<polyline fill="none" stroke="#0000ff" stroke-opacity="0.2" stroke-width="1.5" stroke-linejoin="round" points="415.75,262.8 416.25,262.8 416.75,262.8 417.25,262.8 417.75,262.8 418.25,262.8 418.75,262.8 419.25,262.8 419.75,262.8 420.25,262.8 420.75,262.8 421.25,262.8 421.75,262.8 422.25,262.8 422.75,262.8 423.25,262.8 423.75,262.8 424.25,262.8 424.75,262.8 425.25,262.8 425.75,262.8 426.25,262.8 426.75,262.8 427.25,262.8 427.75,262.8 428.25,262.8 428.75,262.8 429.25,262.8 429.75,262.8 430.25,262.8 430.75,262.8 431.25,262.8 431.75,262.8 432.25,262.8 432.75,262.8 433.25,262.8 433.75,262.8 434.25,262.8 434.75,262.8 435.25,262.8 435.75,262.8 436.25,262.8 436.75,262.8 437.25,262.8 437.75,262.8 438.25,262.8 438.75,262.8 439.25,262.8 439.75,262.8 440.25,262.8 440.75,262.8 441.25,262.8 441.75,262.8 442.25,262.8 442.75,262.8 443.25,262.8 443.75,262.79 444.25,262.79 444.75,262.79 445.25,262.79 445.75,262.79 446.25,262.79 446.75,262.79 447.25,262.79 447.75,262.79 448.25,262.79 448.75,262.79 449.25,262.78 449.75,262.78 450.25,262.78 450.75,262.78 451.25,262.78 451.75,262.77 452.25,262.77 452.75,262.77 453.25,262.76 453.75,262.76 454.25,262.76 454.75,262.75 455.25,262.75 455.75,262.74 456.25,262.74 456.75,262.73 457.25,262.73 457.75,262.72 458.25,262.71 458.75,262.7 459.25,262.69 459.75,262.68 460.25,262.67 460.75,262.66 461.25,262.65 461.75,262.63 462.25,262.62 462.75,262.6 463.25,262.58 463.75,262.57 464.25,262.54 464.75,262.52 465.25,262.5 465.75,262.47 466.25,262.44 466.75,262.41 467.25,262.38 467.75,262.34 468.25,262.31 468.75,262.26 469.25,262.22 469.75,262.17 470.25,262.12 470.75,262.07 471.25,262.01 471.75,261.94 472.25,261.88 472.75,261.8 473.25,261.73 473.75,261.64 474.25,261.55 474.75,261.46 475.25,261.35 475.75,261.25 476.25,261.13 476.75,261.01 477.25,260.87 477.75,260.73 478.25,260.58 478.75,260.42 479.25,260.25 479.75,260.07 480.25,259.88 480.75,259.67 481.25,259.46 481.75,259.23 482.25,258.98 482.75,258.73 483.25,258.45 483.75,258.16 484.25,257.86 484.75,257.53 485.25,257.19 485.75,256.83 486.25,256.45 486.75,256.05 487.25,255.63 487.75,255.18 488.25,254.71 488.75,254.22 489.25,253.7 489.75,253.16 490.25,252.59 490.75,251.98 491.25,251.36 491.75,250.7 492.25,250 492.75,249.28 493.25,248.52 493.75,247.73 494.25,246.9 494.75,246.04 495.25,245.14 495.75,244.2 496.25,243.22 496.75,242.2 497.25,241.13 497.75,240.03 498.25,238.88 498.75,237.68 499.25,236.44 499.75,235.15 500.25,233.82 500.75,232.43 501.25,231 501.75,229.52 502.25,227.98 502.75,226.39 503.25,224.75 503.75,223.06 504.25,221.31 504.75,219.51 505.25,217.66 505.75,215.75 506.25,213.78 506.75,211.76 507.25,209.68 507.75,207.55 508.25,205.36 508.75,203.12 509.25,200.82 509.75,198.47 510.25,196.06 510.75,193.6 511.25,191.08 511.75,188.51 512.25,185.89 512.75,183.22 513.25,180.5 513.75,177.73 514.25,174.91 514.75,172.05 515.25,169.14 515.75,166.19 516.25,163.2 516.75,160.17 517.25,157.11 517.75,154 518.25,150.87 518.75,147.7 519.25,144.51 519.75,141.29 520.25,138.05 520.75,134.79 521.25,131.52 521.75,128.23 522.25,124.93 522.75,121.62 523.25,118.31 523.75,115 524.25,111.69 524.75,108.38 525.25,105.09 525.75,101.81 526.25,98.55 526.75,95.31 527.25,92.1 527.75,88.91 528.25,85.76 528.75,82.64 529.25,79.57 529.75,76.54 530.25,73.56 530.75,70.63 531.25,67.75 531.75,64.94 532.25,62.19 532.75,59.51 533.25,56.9 533.75,54.37 534.25,51.92 534.75,49.54 535.25,47.26 535.75,45.06 536.25,42.95 536.75,40.95 537.25,39.03 537.75,37.22 538.25,35.52 538.75,33.92 539.25,32.43 539.75,31.05 540.25,29.78 540.75,28.63 541.25,27.6 541.75,26.69 542.25,25.89 542.75,25.22 543.25,24.67 543.75,24.24 544.25,23.93 544.75,23.76 545.25,23.7 545.75,23.77 546.25,23.96 546.75,24.28 547.25,24.73 547.75,25.29 548.25,25.98 548.75,26.79 549.25,27.72 549.75,28.77 549.8,28.88"/>
<polyline fill="none" stroke="#0000ff" stroke-width="1.5" stroke-linejoin="round" points="549.8,28.88 550,29.33 550.5,30.56 551,31.89 551.5,33.34 552,34.9 552.5,36.56 553,38.33 553.5,40.21 554,42.18 554.5,44.25 555,46.41 555.5,48.66 556,51 556.5,53.43 557,55.93 557.5,58.51 558,61.17 558.5,63.89 559,66.68 559.5,69.53 560,72.44 560.5,75.4 561,78.41 561.5,81.47 562,84.57 562.5,87.71 563,90.88 563.5,94.09 564,97.32 564.5,100.57 565,103.84 565.5,107.13 566,110.43 566.5,113.74 567,117.05 567.5,120.36 568,123.67 568.5,126.98 569,130.27 569.5,133.55 570,136.82 570.5,140.07 571,143.29 571.5,146.49 572,149.67 572.5,152.82 573,155.93 573.5,159.01 574,162.06 574.5,165.06 575,168.03 575.5,170.95 576,173.83 576.5,176.67 577,179.45 577.5,182.19 578,184.88 578.5,187.52 579,190.11 579.5,192.65 580,195.13 580.5,197.56 581,199.93 581.5,202.25 582,204.52 582.5,206.73 583,208.88 583.5,210.98 584,213.02 584.5,215.01 585,216.94 585.5,218.81 586,220.64 586.5,222.4 587,224.12 587.5,225.78 588,227.38 588.5,228.94 589,230.44 589.5,231.89 590,233.3 590.5,234.65 591,235.96 591.5,237.22 592,238.43 592.5,239.6 593,240.72 593.5,241.8 594,242.84 594.5,243.83 595,244.79 595.5,245.7 596,246.58 596.5,247.42 597,248.23 597.5,249 598,249.73 598.5,250.44 599,251.11 599.5,251.75 600,252.36 600.5,252.94 601,253.5 601.5,254.03 602,254.53 602.5,255.01 603,255.46 603.5,255.89 604,256.3 604.5,256.69 605,257.06 605.5,257.41 606,257.74 606.5,258.05 607,258.34 607.5,258.62 608,258.89 608.5,259.14 609,259.37 609.5,259.59 610,259.8 610.5,260 611,260.18 611.5,260.36 612,260.52 612.5,260.68 613,260.82 613.5,260.96 614,261.08 614.5,261.2 615,261.31 615.5,261.42 616,261.52 616.5,261.61 617,261.69 617.5,261.77 618,261.85 618.5,261.92 619,261.98 619.5,262.04 620,262.1 620.5,262.15 621,262.2 621.5,262.25 622,262.29 622.5,262.33 623,262.37 623.5,262.4 624,262.43 624.5,262.46 625,262.49 625.5,262.51 626,262.54 626.5,262.56 627,262.58 627.5,262.6 628,262.61 628.5,262.63 629,262.64 629.5,262.66 630,262.67 630.5,262.68 631,262.69 631.5,262.7 632,262.71 632.5,262.72 633,262.72 633.5,262.73 634,262.74 634.5,262.74 635,262.75 635.5,262.75 636,262.76 636.5,262.76 637,262.76 637.5,262.77 638,262.77 638.5,262.77 639,262.78 639.5,262.78 640,262.78 640.5,262.78 641,262.78 641.5,262.78 642,262.79 642.5,262.79 643,262.79 643.5,262.79 644,262.79 644.5,262.79 645,262.79 645.5,262.79 646,262.79 646.5,262.79 647,262.8 647.5,262.8 648,262.8 648.5,262.8 649,262.8 649.5,262.8 650,262.8 650.5,262.8 651,262.8 651.5,262.8 652,262.8 652.5,262.8 653,262.8 653.5,262.8 654,262.8 654.5,262.8 655,262.8 655.5,262.8 656,262.8 656.5,262.8 657,262.8 657.5,262.8 658,262.8 658.5,262.8 659,262.8 659.5,262.8 660,262.8 660.5,262.8 661,262.8 661.5,262.8 662,262.8 662.5,262.8 663,262.8 663.5,262.8 664,262.8 664.5,262.8 665,262.8 665.5,262.8 666,262.8 666.5,262.8 667,262.8 667.5,262.8 668,262.8 668.5,262.8 669,262.8 669.5,262.8 670,262.8 670.5,262.8 671,262.8 671.5,262.8 672,262.8 672.5,262.8 673,262.8 673.5,262.8 674,262.8 674.5,262.8 675,262.8 675.5,262.8 676,262.8 676.5,262.8 677,262.8 677.5,262.8 678,262.8 678.5,262.8 679,262.8 679.5,262.8 680,262.8 680.5,262.8 681,262.8 681.5,262.8 682,262.8 682.5,262.8 683,262.8 683.2,262.8"/>
<text x="404.95" y="269.85" font-family="Liberation Sans, sans-serif" font-size="19.5" text-anchor="end">0</text>
<text x="404.95" y="170.75" font-family="Liberation Sans, sans-serif" font-size="19.5" text-anchor="end">20</text>
<text x="404.95" y="71.65" font-family="Liberation Sans, sans-serif" font-size="19.5" text-anchor="end">40</text>
<text x="456.1" y="282.7" font-family="Liberation Sans, sans-serif" font-size="19.5" text-anchor="middle">–6.2</text>
<text x="515.1" y="282.7" font-family="Liberation Sans, sans-serif" font-size="19.5" text-anchor="middle">–6</text>
<text x="574.2" y="282.7" font-family="Liberation Sans, sans-serif" font-size="19.5" text-anchor="middle">–5.8</text>
<text x="633.3" y="282.7" font-family="Liberation Sans, sans-serif" font-size="19.5" text-anchor="middle">–5.6</text>
<polygon fill="#e0dfea" points="178.5,613.3 178.5,502.85 179,499.26 179.5,495.67 180,492.08 180.5,488.5 181,484.94 181.5,481.39 182,477.87 182.5,474.39 183,470.96 183.5,467.57 184,464.24 184.5,460.99 185,457.8 185.5,454.7 186,451.68 186.5,448.77 187,445.96 187.5,443.26 188,440.67 188.5,438.21 189,435.89 189.5,433.7 190,431.65 190.5,429.75 191,428.01 191.5,426.42 192,425 192.5,423.75 193,422.66 193.5,421.75 194,421.01 194.5,420.45 195,420.07 195.5,419.87 196,419.85 196.5,420.02 197,420.36 197.5,420.88 198,421.59 198.5,422.46 199,423.51 199.5,424.74 200,426.13 200.5,427.68 201,429.39 201.5,431.26 202,433.28 202.5,435.44 203,437.74 203.5,440.17 204,442.73 204.5,445.41 205,448.2 205.5,451.09 206,454.09 206.5,457.17 207,460.34 207.5,463.59 208,466.9 208.5,470.27 209,473.7 209.5,477.17 210,480.68 210.5,484.22 211,487.79 211.5,491.37 212,494.96 212.5,498.55 213,502.13 213.5,505.7 214,509.26 214.5,512.79 215,516.3 215.5,519.77 216,523.2 216.5,526.58 217,529.92 217.5,533.2 218,536.43 218.5,539.59 219,542.69 219.5,545.73 220,548.69 220.5,551.58 221,554.4 221.5,557.14 222,559.81 222.5,562.39 223,564.9 223.5,567.32 224,569.67 224.5,571.93 225,574.11 225.5,576.22 226,578.24 226.5,580.18 227,582.05 227.5,583.83 228,585.55 228.5,587.18 229,588.74 229.5,590.24 230,591.66 230.5,593.01 231,594.29 231.5,595.52 232,596.67 232.5,597.77 233,598.81 233.5,599.79 234,600.72 234.5,601.59 235,602.41 235.5,603.19 236,603.92 236.5,604.6 237,605.25 237.5,605.85 238,606.41 238.5,606.94 239,607.43 239.5,607.89 240,608.31 240.5,608.71 241,609.08 241.5,609.43 242,609.75 242.5,610.04 243,610.32 243.5,610.57 244,610.8 244.5,611.02 245,611.22 245.5,611.4 246,611.57 246.5,611.73 247,611.87 247.5,612 248,612.12 248.5,612.23 249,612.33 249.5,612.43 250,612.51 250.5,612.59 251,612.66 251.5,612.72 252,612.78 252.5,612.83 253,612.88 253.5,612.92 254,612.96 254.5,613 255,613.03 255.5,613.06 256,613.08 256.5,613.11 257,613.13 257.5,613.14 258,613.16 258.5,613.18 259,613.19 259.5,613.2 260,613.21 260.5,613.22 261,613.23 261.5,613.24 262,613.25 262.5,613.25 263,613.26 263.5,613.26 264,613.27 264.5,613.27 265,613.28 265.5,613.28 266,613.28 266.5,613.28 267,613.29 267.5,613.29 268,613.29 268.5,613.29 269,613.29 269.5,613.29 270,613.29 270.5,613.29 271,613.3 271.5,613.3 272,613.3 272.5,613.3 273,613.3 273.5,613.3 274,613.3 274.5,613.3 275,613.3 275.5,613.3 276,613.3 276.5,613.3 277,613.3 277.5,613.3 278,613.3 278.5,613.3 279,613.3 279.5,613.3 280,613.3 280.5,613.3 281,613.3 281.5,613.3 282,613.3 282.5,613.3 283,613.3 283.5,613.3 284,613.3 284.5,613.3 285,613.3 285.5,613.3 286,613.3 286.5,613.3 287,613.3 287.5,613.3 288,613.3 288.5,613.3 289,613.3 289.5,613.3 290,613.3 290.5,613.3 291,613.3 291.5,613.3 292,613.3 292.5,613.3 293,613.3 293.5,613.3 294,613.3 294.5,613.3 295,613.3 295.5,613.3 296,613.3 296.5,613.3 297,613.3 297.5,613.3 298,613.3 298.5,613.3 299,613.3 299.5,613.3 300,613.3 300.5,613.3 301,613.3 301.5,613.3 302,613.3 302.5,613.3 303,613.3 303.5,613.3 304,613.3 304.5,613.3 305,613.3 305.5,613.3 306,613.3 306.5,613.3 307,613.3 307.5,613.3 308,613.3 308.5,613.3 309,613.3 309.5,613.3 310,613.3 310.5,613.3 311,613.3 311.5,613.3 312,613.3 312.5,613.3 313,613.3 313.5,613.3 314,613.3 314.5,613.3 315,613.3 315.5,613.3 316,613.3 316.5,613.3 317,613.3 317.5,613.3 318,613.3 318.5,613.3 319,613.3 319.5,613.3 320,613.3 320.5,613.3 321,613.3 321.5,613.3 322,613.3 322.5,613.3 323,613.3 323.5,613.3 324,613.3 324.5,613.3 325,613.3 325.5,613.3 326,613.3 326.5,613.3 327,613.3 327.5,613.3 328,613.3 328.5,613.3 329,613.3 329.5,613.3 330,613.3 330.5,613.3 331,613.3 331.5,613.3 332,613.3 332.5,613.3 333,613.3 333.5,613.3 334,613.3 334.5,613.3 335,613.3 335.5,613.3 336,613.3 336.1,613.3 336.1,613.3"/>
<path d="M60.6,613.3L146,613.3L146,610.24L157.03,610.24L157.03,598L159.78,598L159.78,588.82L162.53,588.82L162.53,573.52L168.04,573.52L168.04,515.38L170.8,515.38L170.8,536.8L173.56,536.8L173.56,524.56L176.31,524.56L176.31,509.26L179.06,509.26L179.06,481.72L181.82,481.72L181.82,487.84L184.57,487.84L184.57,457.24L187.33,457.24L187.33,448.06L190.08,448.06L190.08,435.82L192.84,435.82L192.84,365.44L195.59,365.44L195.59,389.92L198.35,389.92L198.35,411.34L201.1,411.34L201.1,448.06L206.61,448.06L206.61,487.84L209.37,487.84L209.37,497.02L212.12,497.02L212.12,515.38L217.63,515.38L217.63,552.1L220.39,552.1L220.39,573.52L225.9,573.52L225.9,579.64L231.41,579.64L231.41,598L234.16,598L234.16,594.94L236.92,594.94L236.92,613.3L239.67,613.3L239.67,610.24L242.43,610.24L242.43,591.88L245.18,591.88L245.18,604.12L247.94,604.12L247.94,601.06L250.69,601.06L250.69,610.24L253.45,610.24L253.45,607.18L256.2,607.18L256.2,610.24L261.71,610.24L261.71,613.3L264.47,613.3L264.47,607.18L267.23,607.18L267.23,610.24L269.98,610.24L269.98,607.18L272.74,607.18L272.74,613.3L283.75,613.3L283.75,610.24L286.51,610.24L286.51,607.18L289.26,607.18L289.26,610.24L292.02,610.24L292.02,613.3L300.29,613.3L300.29,607.18L303.04,607.18L303.04,610.24L314.06,610.24L314.06,613.3L316.81,613.3L316.81,607.18L319.57,607.18L319.57,610.24L322.32,610.24L322.32,613.3L327.84,613.3L327.84,610.24L330.59,610.24L330.59,613.3L336.1,613.3" fill="none" stroke="#111" stroke-width="1.05"/>
<line x1="178.5" y1="367.5" x2="178.5" y2="613.3" stroke="#ff0000" stroke-width="1.8" stroke-dasharray="12.2 3.37"/>
<polyline fill="none" stroke="#0000ff" stroke-width="1.5" stroke-linejoin="round" points="68.3,613.3 68.8,613.3 69.3,613.3 69.8,613.3 70.3,613.3 70.8,613.3 71.3,613.3 71.8,613.3 72.3,613.3 72.8,613.3 73.3,613.3 73.8,613.3 74.3,613.3 74.8,613.3 75.3,613.3 75.8,613.3 76.3,613.3 76.8,613.3 77.3,613.3 77.8,613.3 78.3,613.3 78.8,613.3 79.3,613.3 79.8,613.3 80.3,613.3 80.8,613.3 81.3,613.3 81.8,613.3 82.3,613.3 82.8,613.3 83.3,613.3 83.8,613.3 84.3,613.3 84.8,613.3 85.3,613.3 85.8,613.3 86.3,613.3 86.8,613.3 87.3,613.3 87.8,613.3 88.3,613.3 88.8,613.3 89.3,613.3 89.8,613.3 90.3,613.3 90.8,613.3 91.3,613.3 91.8,613.3 92.3,613.3 92.8,613.3 93.3,613.3 93.8,613.3 94.3,613.3 94.8,613.3 95.3,613.3 95.8,613.3 96.3,613.3 96.8,613.3 97.3,613.3 97.8,613.3 98.3,613.3 98.8,613.3 99.3,613.3 99.8,613.3 100.3,613.3 100.8,613.3 101.3,613.3 101.8,613.3 102.3,613.3 102.8,613.3 103.3,613.3 103.8,613.3 104.3,613.3 104.8,613.3 105.3,613.3 105.8,613.3 106.3,613.3 106.8,613.3 107.3,613.3 107.8,613.3 108.3,613.3 108.8,613.3 109.3,613.3 109.8,613.3 110.3,613.3 110.8,613.3 111.3,613.3 111.8,613.3 112.3,613.3 112.8,613.3 113.3,613.3 113.8,613.3 114.3,613.3 114.8,613.3 115.3,613.3 115.8,613.3 116.3,613.3 116.8,613.3 117.3,613.3 117.8,613.3 118.3,613.3 118.8,613.3 119.3,613.3 119.8,613.3 120.3,613.3 120.8,613.29 121.3,613.29 121.8,613.29 122.3,613.29 122.8,613.29 123.3,613.29 123.8,613.29 124.3,613.29 124.8,613.28 125.3,613.28 125.8,613.28 126.3,613.28 126.8,613.27 127.3,613.27 127.8,613.27 128.3,613.26 128.8,613.26 129.3,613.25 129.8,613.24 130.3,613.24 130.8,613.23 131.3,613.22 131.8,613.21 132.3,613.2 132.8,613.19 133.3,613.17 133.8,613.16 134.3,613.14 134.8,613.12 135.3,613.1 135.8,613.07 136.3,613.04 136.8,613.01 137.3,612.98 137.8,612.94 138.3,612.9 138.8,612.86 139.3,612.81 139.8,612.76 140.3,612.7 140.8,612.63 141.3,612.56 141.8,612.48 142.3,612.39 142.8,612.3 143.3,612.19 143.8,612.08 144.3,611.95 144.8,611.82 145.3,611.67 145.8,611.51 146.3,611.33 146.8,611.14 147.3,610.94 147.8,610.71 148.3,610.47 148.8,610.21 149.3,609.93 149.8,609.62 150.3,609.29 150.8,608.94 151.3,608.56 151.8,608.15 152.3,607.71 152.8,607.24 153.3,606.73 153.8,606.19 154.3,605.61 154.8,604.99 155.3,604.33 155.8,603.63 156.3,602.89 156.8,602.09 157.3,601.25 157.8,600.35 158.3,599.4 158.8,598.4 159.3,597.34 159.8,596.22 160.3,595.03 160.8,593.79 161.3,592.48 161.8,591.1 162.3,589.65 162.8,588.13 163.3,586.54 163.8,584.87 164.3,583.13 164.8,581.31 165.3,579.41 165.8,577.44 166.3,575.38 166.8,573.25 167.3,571.03 167.8,568.74 168.3,566.36 168.8,563.9 169.3,561.37 169.8,558.75 170.3,556.05 170.8,553.28 171.3,550.44 171.8,547.51 172.3,544.52 172.8,541.46 173.3,538.33 173.8,535.15 174.3,531.9 174.8,528.59 175.3,525.24 175.8,521.83 176.3,518.39 176.8,514.9 177.3,511.38 177.8,507.84 178.3,504.28 178.8,500.7 179.3,497.11 179.8,493.52 180.3,489.93 180.8,486.36 181.3,482.8 181.8,479.28 182.3,475.78 182.8,472.32 183.3,468.92 183.8,465.57 184.3,462.28 184.8,459.07 185.3,455.93 185.8,452.88 186.3,449.92 186.8,447.07 187.3,444.32 187.8,441.69 188.3,439.18 188.8,436.8 189.3,434.56 189.8,432.45 190.3,430.49 190.8,428.69 191.3,427.04 191.8,425.55 192.3,424.23 192.8,423.07 193.3,422.09 193.8,421.28 194.3,420.65 194.8,420.2 195.3,419.93 195.8,419.84 196.3,419.93 196.8,420.2 197.3,420.65 197.8,421.28 198.3,422.09 198.8,423.07 199.3,424.23 199.8,425.55 200.3,427.04 200.8,428.69 201.3,430.49 201.8,432.45 202.3,434.56 202.8,436.8 203.3,439.18 203.8,441.69 204.3,444.32 204.8,447.07 205.3,449.92 205.8,452.88 206.3,455.93 206.8,459.07 207.3,462.28 207.8,465.57 208.3,468.92 208.8,472.32 209.3,475.78 209.8,479.28 210.3,482.8 210.8,486.36 211.3,489.93 211.8,493.52 212.3,497.11 212.8,500.7 213.3,504.28 213.8,507.84 214.3,511.38 214.8,514.9 215.3,518.39 215.8,521.83 216.3,525.24 216.8,528.59 217.3,531.9 217.8,535.15 218.3,538.33 218.8,541.46 219.3,544.52 219.8,547.51 220.3,550.44 220.8,553.28 221.3,556.05 221.8,558.75 222.3,561.37 222.8,563.9 223.3,566.36 223.8,568.74 224.3,571.03 224.8,573.25 225.3,575.38 225.8,577.44 226.3,579.41 226.8,581.31 227.3,583.13 227.8,584.87 228.3,586.54 228.8,588.13 229.3,589.65 229.8,591.1 230.3,592.48 230.8,593.79 231.3,595.03 231.8,596.22 232.3,597.34 232.8,598.4 233.3,599.4 233.8,600.35 234.3,601.25 234.8,602.09 235.3,602.89 235.8,603.63 236.3,604.33 236.8,604.99 237.3,605.61 237.8,606.19 238.3,606.73 238.8,607.24 239.3,607.71 239.8,608.15 240.3,608.56 240.8,608.94 241.3,609.29 241.8,609.62 242.3,609.93 242.8,610.21 243.3,610.47 243.8,610.71 244.3,610.94 244.8,611.14 245.3,611.33 245.8,611.51 246.3,611.67 246.8,611.82 247.3,611.95 247.8,612.08 248.3,612.19 248.8,612.3 249.3,612.39 249.8,612.48 250.3,612.56 250.8,612.63 251.3,612.7 251.8,612.76 252.3,612.81 252.8,612.86 253.3,612.9 253.8,612.94 254.3,612.98 254.8,613.01 255.3,613.04 255.8,613.07 256.3,613.1 256.8,613.12 257.3,613.14 257.8,613.16 258.3,613.17 258.8,613.19 259.3,613.2 259.8,613.21 260.3,613.22 260.8,613.23 261.3,613.24 261.8,613.24 262.3,613.25 262.8,613.26 263.3,613.26 263.8,613.27 264.3,613.27 264.8,613.27 265.3,613.28 265.8,613.28 266.3,613.28 266.8,613.28 267.3,613.29 267.8,613.29 268.3,613.29 268.8,613.29 269.3,613.29 269.8,613.29 270.3,613.29 270.8,613.29 271.3,613.3 271.8,613.3 272.3,613.3 272.8,613.3 273.3,613.3 273.8,613.3 274.3,613.3 274.8,613.3 275.3,613.3 275.8,613.3 276.3,613.3 276.8,613.3 277.3,613.3 277.8,613.3 278.3,613.3 278.8,613.3 279.3,613.3 279.8,613.3 280.3,613.3 280.8,613.3 281.3,613.3 281.8,613.3 282.3,613.3 282.8,613.3 283.3,613.3 283.8,613.3 284.3,613.3 284.8,613.3 285.3,613.3 285.8,613.3 286.3,613.3 286.8,613.3 287.3,613.3 287.8,613.3 288.3,613.3 288.8,613.3 289.3,613.3 289.8,613.3 290.3,613.3 290.8,613.3 291.3,613.3 291.8,613.3 292.3,613.3 292.8,613.3 293.3,613.3 293.8,613.3 294.3,613.3 294.8,613.3 295.3,613.3 295.8,613.3 296.3,613.3 296.8,613.3 297.3,613.3 297.8,613.3 298.3,613.3 298.8,613.3 299.3,613.3 299.8,613.3 300.3,613.3 300.8,613.3 301.3,613.3 301.8,613.3 302.3,613.3 302.8,613.3 303.3,613.3 303.8,613.3 304.3,613.3 304.8,613.3 305.3,613.3 305.8,613.3 306.3,613.3 306.8,613.3 307.3,613.3 307.8,613.3 308.3,613.3 308.8,613.3 309.3,613.3 309.8,613.3 310.3,613.3 310.8,613.3 311.3,613.3 311.8,613.3 312.3,613.3 312.8,613.3 313.3,613.3 313.8,613.3 314.3,613.3 314.8,613.3 315.3,613.3 315.8,613.3 316.3,613.3 316.8,613.3 317.3,613.3 317.8,613.3 318.3,613.3 318.8,613.3 319.3,613.3 319.8,613.3 320.3,613.3 320.8,613.3 321.3,613.3 321.8,613.3 322.3,613.3 322.8,613.3 323.3,613.3 323.8,613.3 324.3,613.3 324.8,613.3 325.3,613.3 325.8,613.3 326.3,613.3 326.8,613.3 327.3,613.3 327.8,613.3 328.3,613.3 328.8,613.3 329.3,613.3 329.8,613.3 330.3,613.3 330.8,613.3 331.3,613.3 331.8,613.3 332.3,613.3 332.8,613.3 333.3,613.3 333.8,613.3 334.3,613.3 334.8,613.3 335.3,613.3 335.8,613.3 336.1,613.3"/>
<rect x="60.6" y="354" width="275.5" height="259.3" fill="none" stroke="#000" stroke-width="1.7"/>
<path d="M68.79,613.3V609.4M86,613.3V605.5M103.21,613.3V609.4M120.41,613.3V609.4M137.62,613.3V609.4M154.83,613.3V605.5M172.04,613.3V609.4M189.25,613.3V609.4M206.45,613.3V609.4M223.66,613.3V605.5M240.87,613.3V609.4M258.07,613.3V609.4M275.28,613.3V609.4M292.49,613.3V605.5M309.7,613.3V609.4M326.9,613.3V609.4M60.6,598H64.6M60.6,582.7H64.6M60.6,567.4H64.6M60.6,552.1H68.6M60.6,536.8H64.6M60.6,521.5H64.6M60.6,506.2H64.6M60.6,490.9H68.6M60.6,475.6H64.6M60.6,460.3H64.6M60.6,445H64.6M60.6,429.7H68.6M60.6,414.4H64.6M60.6,399.1H64.6M60.6,383.8H64.6M60.6,368.5H68.6" stroke="#000" stroke-width="1.3" fill="none"/>
<polyline fill="none" stroke="#0000ff" stroke-opacity="0.2" stroke-width="1.5" stroke-linejoin="round" points="68.3,613.3 68.8,613.3 69.3,613.3 69.8,613.3 70.3,613.3 70.8,613.3 71.3,613.3 71.8,613.3 72.3,613.3 72.8,613.3 73.3,613.3 73.8,613.3 74.3,613.3 74.8,613.3 75.3,613.3 75.8,613.3 76.3,613.3 76.8,613.3 77.3,613.3 77.8,613.3 78.3,613.3 78.8,613.3 79.3,613.3 79.8,613.3 80.3,613.3 80.8,613.3 81.3,613.3 81.8,613.3 82.3,613.3 82.8,613.3 83.3,613.3 83.8,613.3 84.3,613.3 84.8,613.3 85.3,613.3 85.8,613.3 86.3,613.3 86.8,613.3 87.3,613.3 87.8,613.3 88.3,613.3 88.8,613.3 89.3,613.3 89.8,613.3 90.3,613.3 90.8,613.3 91.3,613.3 91.8,613.3 92.3,613.3 92.8,613.3 93.3,613.3 93.8,613.3 94.3,613.3 94.8,613.3 95.3,613.3 95.8,613.3 96.3,613.3 96.8,613.3 97.3,613.3 97.8,613.3 98.3,613.3 98.8,613.3 99.3,613.3 99.8,613.3 100.3,613.3 100.8,613.3 101.3,613.3 101.8,613.3 102.3,613.3 102.8,613.3 103.3,613.3 103.8,613.3 104.3,613.3 104.8,613.3 105.3,613.3 105.8,613.3 106.3,613.3 106.8,613.3 107.3,613.3 107.8,613.3 108.3,613.3 108.8,613.3 109.3,613.3 109.8,613.3 110.3,613.3 110.8,613.3 111.3,613.3 111.8,613.3 112.3,613.3 112.8,613.3 113.3,613.3 113.8,613.3 114.3,613.3 114.8,613.3 115.3,613.3 115.8,613.3 116.3,613.3 116.8,613.3 117.3,613.3 117.8,613.3 118.3,613.3 118.8,613.3 119.3,613.3 119.8,613.3 120.3,613.3 120.8,613.29 121.3,613.29 121.8,613.29 122.3,613.29 122.8,613.29 123.3,613.29 123.8,613.29 124.3,613.29 124.8,613.28 125.3,613.28 125.8,613.28 126.3,613.28 126.8,613.27 127.3,613.27 127.8,613.27 128.3,613.26 128.8,613.26 129.3,613.25 129.8,613.24 130.3,613.24 130.8,613.23 131.3,613.22 131.8,613.21 132.3,613.2 132.8,613.19 133.3,613.17 133.8,613.16 134.3,613.14 134.8,613.12 135.3,613.1 135.8,613.07 136.3,613.04 136.8,613.01 137.3,612.98 137.8,612.94 138.3,612.9 138.8,612.86 139.3,612.81 139.8,612.76 140.3,612.7 140.8,612.63 141.3,612.56 141.8,612.48 142.3,612.39 142.8,612.3 143.3,612.19 143.8,612.08 144.3,611.95 144.8,611.82 145.3,611.67 145.8,611.51 146.3,611.33 146.8,611.14 147.3,610.94 147.8,610.71 148.3,610.47 148.8,610.21 149.3,609.93 149.8,609.62 150.3,609.29 150.8,608.94 151.3,608.56 151.8,608.15 152.3,607.71 152.8,607.24 153.3,606.73 153.8,606.19 154.3,605.61 154.8,604.99 155.3,604.33 155.8,603.63 156.3,602.89 156.8,602.09 157.3,601.25 157.8,600.35 158.3,599.4 158.8,598.4 159.3,597.34 159.8,596.22 160.3,595.03 160.8,593.79 161.3,592.48 161.8,591.1 162.3,589.65 162.8,588.13 163.3,586.54 163.8,584.87 164.3,583.13 164.8,581.31 165.3,579.41 165.8,577.44 166.3,575.38 166.8,573.25 167.3,571.03 167.8,568.74 168.3,566.36 168.8,563.9 169.3,561.37 169.8,558.75 170.3,556.05 170.8,553.28 171.3,550.44 171.8,547.51 172.3,544.52 172.8,541.46 173.3,538.33 173.8,535.15 174.3,531.9 174.8,528.59 175.3,525.24 175.8,521.83 176.3,518.39 176.8,514.9 177.3,511.38 177.8,507.84 178.3,504.28 178.5,502.85"/>
<polyline fill="none" stroke="#0000ff" stroke-width="1.5" stroke-linejoin="round" points="178.5,502.85 178.5,502.85 179,499.26 179.5,495.67 180,492.08 180.5,488.5 181,484.94 181.5,481.39 182,477.87 182.5,474.39 183,470.96 183.5,467.57 184,464.24 184.5,460.99 185,457.8 185.5,454.7 186,451.68 186.5,448.77 187,445.96 187.5,443.26 188,440.67 188.5,438.21 189,435.89 189.5,433.7 190,431.65 190.5,429.75 191,428.01 191.5,426.42 192,425 192.5,423.75 193,422.66 193.5,421.75 194,421.01 194.5,420.45 195,420.07 195.5,419.87 196,419.85 196.5,420.02 197,420.36 197.5,420.88 198,421.59 198.5,422.46 199,423.51 199.5,424.74 200,426.13 200.5,427.68 201,429.39 201.5,431.26 202,433.28 202.5,435.44 203,437.74 203.5,440.17 204,442.73 204.5,445.41 205,448.2 205.5,451.09 206,454.09 206.5,457.17 207,460.34 207.5,463.59 208,466.9 208.5,470.27 209,473.7 209.5,477.17 210,480.68 210.5,484.22 211,487.79 211.5,491.37 212,494.96 212.5,498.55 213,502.13 213.5,505.7 214,509.26 214.5,512.79 215,516.3 215.5,519.77 216,523.2 216.5,526.58 217,529.92 217.5,533.2 218,536.43 218.5,539.59 219,542.69 219.5,545.73 220,548.69 220.5,551.58 221,554.4 221.5,557.14 222,559.81 222.5,562.39 223,564.9 223.5,567.32 224,569.67 224.5,571.93 225,574.11 225.5,576.22 226,578.24 226.5,580.18 227,582.05 227.5,583.83 228,585.55 228.5,587.18 229,588.74 229.5,590.24 230,591.66 230.5,593.01 231,594.29 231.5,595.52 232,596.67 232.5,597.77 233,598.81 233.5,599.79 234,600.72 234.5,601.59 235,602.41 235.5,603.19 236,603.92 236.5,604.6 237,605.25 237.5,605.85 238,606.41 238.5,606.94 239,607.43 239.5,607.89 240,608.31 240.5,608.71 241,609.08 241.5,609.43 242,609.75 242.5,610.04 243,610.32 243.5,610.57 244,610.8 244.5,611.02 245,611.22 245.5,611.4 246,611.57 246.5,611.73 247,611.87 247.5,612 248,612.12 248.5,612.23 249,612.33 249.5,612.43 250,612.51 250.5,612.59 251,612.66 251.5,612.72 252,612.78 252.5,612.83 253,612.88 253.5,612.92 254,612.96 254.5,613 255,613.03 255.5,613.06 256,613.08 256.5,613.11 257,613.13 257.5,613.14 258,613.16 258.5,613.18 259,613.19 259.5,613.2 260,613.21 260.5,613.22 261,613.23 261.5,613.24 262,613.25 262.5,613.25 263,613.26 263.5,613.26 264,613.27 264.5,613.27 265,613.28 265.5,613.28 266,613.28 266.5,613.28 267,613.29 267.5,613.29 268,613.29 268.5,613.29 269,613.29 269.5,613.29 270,613.29 270.5,613.29 271,613.3 271.5,613.3 272,613.3 272.5,613.3 273,613.3 273.5,613.3 274,613.3 274.5,613.3 275,613.3 275.5,613.3 276,613.3 276.5,613.3 277,613.3 277.5,613.3 278,613.3 278.5,613.3 279,613.3 279.5,613.3 280,613.3 280.5,613.3 281,613.3 281.5,613.3 282,613.3 282.5,613.3 283,613.3 283.5,613.3 284,613.3 284.5,613.3 285,613.3 285.5,613.3 286,613.3 286.5,613.3 287,613.3 287.5,613.3 288,613.3 288.5,613.3 289,613.3 289.5,613.3 290,613.3 290.5,613.3 291,613.3 291.5,613.3 292,613.3 292.5,613.3 293,613.3 293.5,613.3 294,613.3 294.5,613.3 295,613.3 295.5,613.3 296,613.3 296.5,613.3 297,613.3 297.5,613.3 298,613.3 298.5,613.3 299,613.3 299.5,613.3 300,613.3 300.5,613.3 301,613.3 301.5,613.3 302,613.3 302.5,613.3 303,613.3 303.5,613.3 304,613.3 304.5,613.3 305,613.3 305.5,613.3 306,613.3 306.5,613.3 307,613.3 307.5,613.3 308,613.3 308.5,613.3 309,613.3 309.5,613.3 310,613.3 310.5,613.3 311,613.3 311.5,613.3 312,613.3 312.5,613.3 313,613.3 313.5,613.3 314,613.3 314.5,613.3 315,613.3 315.5,613.3 316,613.3 316.5,613.3 317,613.3 317.5,613.3 318,613.3 318.5,613.3 319,613.3 319.5,613.3 320,613.3 320.5,613.3 321,613.3 321.5,613.3 322,613.3 322.5,613.3 323,613.3 323.5,613.3 324,613.3 324.5,613.3 325,613.3 325.5,613.3 326,613.3 326.5,613.3 327,613.3 327.5,613.3 328,613.3 328.5,613.3 329,613.3 329.5,613.3 330,613.3 330.5,613.3 331,613.3 331.5,613.3 332,613.3 332.5,613.3 333,613.3 333.5,613.3 334,613.3 334.5,613.3 335,613.3 335.5,613.3 336,613.3 336.1,613.3"/>
<text x="57.5" y="620.35" font-family="Liberation Sans, sans-serif" font-size="19.5" text-anchor="end">0</text>
<text x="57.5" y="559.15" font-family="Liberation Sans, sans-serif" font-size="19.5" text-anchor="end">20</text>
<text x="57.5" y="497.95" font-family="Liberation Sans, sans-serif" font-size="19.5" text-anchor="end">40</text>
<text x="57.5" y="436.75" font-family="Liberation Sans, sans-serif" font-size="19.5" text-anchor="end">60</text>
<text x="57.5" y="375.55" font-family="Liberation Sans, sans-serif" font-size="19.5" text-anchor="end">80</text>
<text x="86" y="633.2" font-family="Liberation Sans, sans-serif" font-size="19.5" text-anchor="middle">–0.4</text>
<text x="154.8" y="633.2" font-family="Liberation Sans, sans-serif" font-size="19.5" text-anchor="middle">–0.2</text>
<text x="223.7" y="633.2" font-family="Liberation Sans, sans-serif" font-size="19.5" text-anchor="middle">0</text>
<text x="292.5" y="633.2" font-family="Liberation Sans, sans-serif" font-size="19.5" text-anchor="middle">0.2</text>
<path d="M271.8,309.5a5.1,5.6 0 1,0 10.2,0a5.1,5.6 0 1,0 -10.2,0ZM273.65,309.5a3.25,4.75 0 1,0 6.5,0a3.25,4.75 0 1,0 -6.5,0Z" fill="#000" fill-rule="evenodd"/><line x1="276.9" y1="300.1" x2="276.9" y2="319.8" stroke="#000" stroke-width="1.0" stroke-opacity="0.75"/><text x="288.5" y="315.2" font-family="Liberation Sans, sans-serif" font-size="22" >[</text><path d="M0.3726,0L0.2847,0L0.2847,0.5601Q0.2529,0.5298 0.2012,0.4995Q0.1494,0.4692 0.1084,0.4541L0.1084,0.5391Q0.1821,0.5737 0.2373,0.623Q0.2925,0.6724 0.3154,0.7188L0.3726,0.7188Z" transform="translate(295,315.2) scale(22,-22)" fill="#000"/><text x="307.2" y="315.2" font-family="Liberation Sans, sans-serif" font-size="22" >0</text><text x="318.45" y="304.7" font-family="Liberation Sans, sans-serif" font-size="14.7" >-</text><text x="323" y="304.7" font-family="Liberation Sans, sans-serif" font-size="14.7" >5</text><text x="331.3" y="315.2" font-family="Liberation Sans, sans-serif" font-size="22" >]</text>
<path d="M619.2,309.5a5.1,5.6 0 1,0 10.2,0a5.1,5.6 0 1,0 -10.2,0ZM621.05,309.5a3.25,4.75 0 1,0 6.5,0a3.25,4.75 0 1,0 -6.5,0Z" fill="#000" fill-rule="evenodd"/><line x1="624.3" y1="300.1" x2="624.3" y2="319.8" stroke="#000" stroke-width="1.0" stroke-opacity="0.75"/><text x="635.9" y="315.2" font-family="Liberation Sans, sans-serif" font-size="22" >[</text><path d="M0.3726,0L0.2847,0L0.2847,0.5601Q0.2529,0.5298 0.2012,0.4995Q0.1494,0.4692 0.1084,0.4541L0.1084,0.5391Q0.1821,0.5737 0.2373,0.623Q0.2925,0.6724 0.3154,0.7188L0.3726,0.7188Z" transform="translate(642.4,315.2) scale(22,-22)" fill="#000"/><text x="654.6" y="315.2" font-family="Liberation Sans, sans-serif" font-size="22" >0</text><text x="665.85" y="304.7" font-family="Liberation Sans, sans-serif" font-size="14.7" >-</text><text x="670.4" y="304.7" font-family="Liberation Sans, sans-serif" font-size="14.7" >5</text><text x="678.7" y="315.2" font-family="Liberation Sans, sans-serif" font-size="22" >]</text>
<path d="M271.8,660.2a5.1,5.6 0 1,0 10.2,0a5.1,5.6 0 1,0 -10.2,0ZM273.65,660.2a3.25,4.75 0 1,0 6.5,0a3.25,4.75 0 1,0 -6.5,0Z" fill="#000" fill-rule="evenodd"/><line x1="276.9" y1="650.8" x2="276.9" y2="670.5" stroke="#000" stroke-width="1.0" stroke-opacity="0.75"/><text x="288.5" y="665.9" font-family="Liberation Sans, sans-serif" font-size="22" >[</text><path d="M0.3726,0L0.2847,0L0.2847,0.5601Q0.2529,0.5298 0.2012,0.4995Q0.1494,0.4692 0.1084,0.4541L0.1084,0.5391Q0.1821,0.5737 0.2373,0.623Q0.2925,0.6724 0.3154,0.7188L0.3726,0.7188Z" transform="translate(295,665.9) scale(22,-22)" fill="#000"/><text x="307.2" y="665.9" font-family="Liberation Sans, sans-serif" font-size="22" >0</text><text x="318.45" y="655.4" font-family="Liberation Sans, sans-serif" font-size="14.7" >-</text><text x="323" y="655.4" font-family="Liberation Sans, sans-serif" font-size="14.7" >3</text><text x="331.3" y="665.9" font-family="Liberation Sans, sans-serif" font-size="22" >]</text>
<text transform="translate(22.7,185.3) rotate(-90)" font-family="Liberation Sans, sans-serif" font-size="22.2" >Entries / 3.470</text><text transform="translate(22.7,43.95) rotate(-90)" font-family="Liberation Sans, sans-serif" font-size="22" >·</text><path d="M0.3726,0L0.2847,0L0.2847,0.5601Q0.2529,0.5298 0.2012,0.4995Q0.1494,0.4692 0.1084,0.4541L0.1084,0.5391Q0.1821,0.5737 0.2373,0.623Q0.2925,0.6724 0.3154,0.7188L0.3726,0.7188Z" transform="translate(22.7,39.4) rotate(-90) scale(22,-22)" fill="#000"/><text transform="translate(22.7,26.77) rotate(-90)" font-family="Liberation Sans, sans-serif" font-size="22" >0</text><text transform="translate(12.8,15.4) rotate(-90)" font-family="Liberation Sans, sans-serif" font-size="14.7" >-</text><text transform="translate(12.8,10.2) rotate(-90)" font-family="Liberation Sans, sans-serif" font-size="14.7" >8</text>
<text transform="translate(370.2,185.3) rotate(-90)" font-family="Liberation Sans, sans-serif" font-size="22.2" >Entries / 9.304</text><text transform="translate(370.2,43.95) rotate(-90)" font-family="Liberation Sans, sans-serif" font-size="22" >·</text><path d="M0.3726,0L0.2847,0L0.2847,0.5601Q0.2529,0.5298 0.2012,0.4995Q0.1494,0.4692 0.1084,0.4541L0.1084,0.5391Q0.1821,0.5737 0.2373,0.623Q0.2925,0.6724 0.3154,0.7188L0.3726,0.7188Z" transform="translate(370.2,39.4) rotate(-90) scale(22,-22)" fill="#000"/><text transform="translate(370.2,26.77) rotate(-90)" font-family="Liberation Sans, sans-serif" font-size="22" >0</text><text transform="translate(360.3,15.4) rotate(-90)" font-family="Liberation Sans, sans-serif" font-size="14.7" >-</text><text transform="translate(360.3,10.2) rotate(-90)" font-family="Liberation Sans, sans-serif" font-size="14.7" >8</text>
<text transform="translate(22.7,535.9) rotate(-90)" font-family="Liberation Sans, sans-serif" font-size="22.2" >Entries / 7.993</text><text transform="translate(22.7,394.55) rotate(-90)" font-family="Liberation Sans, sans-serif" font-size="22" >·</text><path d="M0.3726,0L0.2847,0L0.2847,0.5601Q0.2529,0.5298 0.2012,0.4995Q0.1494,0.4692 0.1084,0.4541L0.1084,0.5391Q0.1821,0.5737 0.2373,0.623Q0.2925,0.6724 0.3154,0.7188L0.3726,0.7188Z" transform="translate(22.7,390) rotate(-90) scale(22,-22)" fill="#000"/><text transform="translate(22.7,377.37) rotate(-90)" font-family="Liberation Sans, sans-serif" font-size="22" >0</text><text transform="translate(12.8,366) rotate(-90)" font-family="Liberation Sans, sans-serif" font-size="14.7" >-</text><text transform="translate(12.8,360.8) rotate(-90)" font-family="Liberation Sans, sans-serif" font-size="14.7" >6</text>
<text x="80.2" y="31" font-family="Liberation Serif, serif" font-weight="bold" font-size="30">a</text>
<text x="428" y="34.6" font-family="Liberation Serif, serif" font-weight="bold" font-size="30">b</text>
<text x="80.2" y="381.3" font-family="Liberation Serif, serif" font-weight="bold" font-size="30">c</text>
<g fill="#ff0000" font-family="Liberation Serif, serif"><path d="M217,31.85a3.95,4.15 0 1,0 7.9,0a3.95,4.15 0 1,0 -7.9,0ZM218.4,31.85a2.55,3.45 0 1,0 5.1,0a2.55,3.45 0 1,0 -5.1,0Z" fill="#ff0000" fill-rule="evenodd"/><line x1="220.95" y1="24.8" x2="220.95" y2="39.9" stroke="#ff0000" stroke-width="0.9" stroke-opacity="0.75"/><text x="222.9" y="43.8" font-size="10.5" letter-spacing="0.6" font-style="italic" font-weight="bold">fit</text><text x="240.5" y="36" font-size="15.85" font-style="italic" font-weight="bold">= -6.048·10</text><text x="314.4" y="28.6" font-size="10.5" font-style="italic" font-weight="bold">-5</text><text x="234.84" y="71.9" font-size="16" font-style="italic" font-weight="bold">p = 0.388</text></g>
<g fill="#ff0000" font-family="Liberation Serif, serif"><path d="M561.6,32.05a3.95,4.15 0 1,0 7.9,0a3.95,4.15 0 1,0 -7.9,0ZM563,32.05a2.55,3.45 0 1,0 5.1,0a2.55,3.45 0 1,0 -5.1,0Z" fill="#ff0000" fill-rule="evenodd"/><line x1="565.55" y1="25" x2="565.55" y2="40.1" stroke="#ff0000" stroke-width="0.9" stroke-opacity="0.75"/><text x="567.5" y="44" font-size="10.5" letter-spacing="0.6" font-style="italic" font-weight="bold">fit</text><text x="585.1" y="36.2" font-size="15.85" font-style="italic" font-weight="bold">= -5.883·10</text><text x="659" y="28.8" font-size="10.5" font-style="italic" font-weight="bold">-5</text><text x="579.44" y="71.9" font-size="16" font-style="italic" font-weight="bold">p = 0.414</text></g>
<g fill="#ff0000" font-family="Liberation Serif, serif"><path d="M212.7,382.75a3.95,4.15 0 1,0 7.9,0a3.95,4.15 0 1,0 -7.9,0ZM214.1,382.75a2.55,3.45 0 1,0 5.1,0a2.55,3.45 0 1,0 -5.1,0Z" fill="#ff0000" fill-rule="evenodd"/><line x1="216.65" y1="375.7" x2="216.65" y2="390.8" stroke="#ff0000" stroke-width="0.9" stroke-opacity="0.75"/><text x="218.6" y="394.7" font-size="10.5" letter-spacing="0.6" font-style="italic" font-weight="bold">fit</text><text x="236.2" y="386.9" font-size="15.85" font-style="italic" font-weight="bold">= -1.310·10</text><text x="310.1" y="379.5" font-size="10.5" font-style="italic" font-weight="bold">-4</text><text x="230.54" y="422.8" font-size="16" font-style="italic" font-weight="bold">p = 0.854</text></g>
</svg></body></html>
